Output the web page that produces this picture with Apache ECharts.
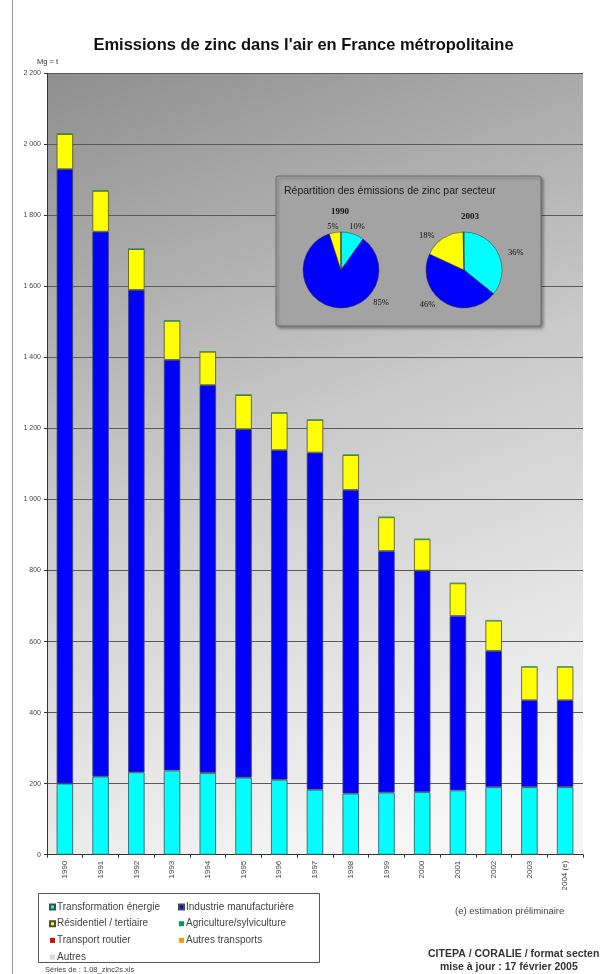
<!DOCTYPE html>
<html>
<head>
<meta charset="utf-8">
<script src="https://cdn.jsdelivr.net/npm/echarts@6/dist/echarts.min.js"></script>
<style>
  html, body { margin: 0; padding: 0; background: #ffffff; }
  #chart { width: 607px; height: 974px; }
</style>
</head>
<body>
<div id="chart"></div>
<script>
// Emissions de zinc dans l'air (Mg), par secteur, 1990-2004
const years = ['1990', '1991', '1992', '1993', '1994', '1995', '1996', '1997',
  '1998', '1999', '2000', '2001', '2002', '2003', '2004 (e)'];
const transformationEnergie = [200, 220, 232, 237, 230, 217, 211, 183, 172, 175, 176, 181, 190, 190, 190];
const industrieManufacturiere = [1730, 1534, 1358, 1156, 1092, 981, 928, 949, 855, 680, 624, 491, 384, 245, 245];
const residentielTertiaire = [99, 115, 115, 110, 94, 96, 105, 92, 98, 95, 88, 92, 85, 94, 94];
const agricultureSylviculture = [2, 2, 2, 2, 2, 2, 2, 2, 2, 2, 2, 2, 2, 2, 2];
const transportRoutier = [0, 0, 0, 0, 0, 0, 0, 0, 0, 0, 0, 0, 0, 0, 0];
const autresTransports = [0, 0, 0, 0, 0, 0, 0, 0, 0, 0, 0, 0, 0, 0, 0];
const autres = [0, 0, 0, 0, 0, 0, 0, 0, 0, 0, 0, 0, 0, 0, 0];
const yTicks = { min: 0, max: 2200, step: 200 };
const pieYears = ['1990', '2003'];

const sectors = [
  { name: 'Transformation énergie', data: transformationEnergie, color: '#00FFFF' },
  { name: 'Industrie manufacturière', data: industrieManufacturiere, color: '#0000FF' },
  { name: 'Résidentiel / tertiaire', data: residentielTertiaire, color: '#FFFF00' },
  { name: 'Agriculture/sylviculture', data: agricultureSylviculture, color: '#00A040' },
  { name: 'Transport routier', data: transportRoutier, color: '#E00000' },
  { name: 'Autres transports', data: autresTransports, color: '#FF9900' },
  { name: 'Autres', data: autres, color: '#D8D8D8' }
];

const chart = echarts.init(document.getElementById('chart'), null, { renderer: 'canvas' });

const sans = 'Liberation Sans, Arial, sans-serif';
const serif = 'Liberation Serif, Times New Roman, serif';

function thousands(v) {
  return String(v).replace(/\B(?=(\d{3})+(?!\d))/g, ' ');
}

const barSeries = sectors.map(s => ({
  name: s.name,
  type: 'bar',
  stack: 'total',
  barWidth: '46%',
  data: s.data,
  itemStyle: {
    color: s.color,
    borderColor: '#4a4a4a',
    borderWidth: s.data.some(v => v > 5) ? 0.8 : 0
  },
  emphasis: { disabled: true }
}));

function pieData(yearLabel) {
  const idx = years.indexOf(yearLabel);
  return sectors
    .filter(s => s.data[idx] > 0)
    .map(s => ({ name: s.name, value: s.data[idx], itemStyle: { color: s.color } }));
}

// label anchors inside the inset box (1990 pie only, the large slice label sits lower right)
const pieLabelSpots = [
  { 0: [357, 227], 1: [381, 303], 2: [333, 227] },
  {}
];

const pieCenters = [[341, 270], [464, 270]];
const pieSeries = pieYears.map((y, i) => ({
  type: 'pie',
  z: 10,
  radius: 38,
  center: pieCenters[i],
  startAngle: 90,
  clockwise: true,
  silent: true,
  data: pieData(y),
  itemStyle: { borderColor: '#333', borderWidth: 0.5 },
  label: {
    show: true,
    position: 'outside',
    fontFamily: serif,
    fontSize: 8.5,
    color: '#111',
    formatter: p => (p.percent >= 2 ? Math.round(p.percent) + '%' : '')
  },
  labelLine: { show: false, length: 3, length2: 2 },
  labelLayout: p => {
    const spot = pieLabelSpots[i][p.dataIndex];
    return spot ? { x: spot[0], y: spot[1], align: 'center', verticalAlign: 'middle' } : {};
  }
}));

const legendCommon = {
  orient: 'vertical',
  itemWidth: 5,
  itemHeight: 5,
  itemGap: 6.7,
  icon: 'rect',
  selectedMode: false,
  textStyle: { fontFamily: sans, fontSize: 10, color: '#444', padding: [0, 0, 0, -3] }
};

const option = {
  backgroundColor: '#ffffff',
  animation: false,
  title: {
    text: "Emissions de zinc dans l'air en France métropolitaine",
    left: 'center',
    top: 32,
    textStyle: { fontFamily: sans, fontSize: 16.5, fontWeight: 'bold', color: '#111' }
  },
  legend: [
    Object.assign({}, legendCommon, {
      left: 44, top: 897,
      data: ['Transformation énergie', 'Résidentiel / tertiaire', 'Transport routier', 'Autres']
    }),
    Object.assign({}, legendCommon, {
      left: 173, top: 897,
      data: ['Industrie manufacturière', 'Agriculture/sylviculture', 'Autres transports']
    })
  ],
  grid: {
    left: 47,
    right: 24,
    top: 73.3,
    bottom: 119.3,
    show: true,
    borderWidth: 0,
    backgroundColor: new echarts.graphic.LinearGradient(0, 0, 0.55, 1, [
      { offset: 0, color: '#8f8f8f' },
      { offset: 0.5, color: '#c9c9c9' },
      { offset: 1, color: '#f6f6f6' }
    ])
  },
  xAxis: {
    type: 'category',
    data: years,
    axisLine: { lineStyle: { color: '#333', width: 1 } },
    axisTick: { show: true, length: 3, lineStyle: { color: '#333' } },
    axisLabel: {
      rotate: 90,
      fontFamily: sans,
      fontSize: 8,
      color: '#444',
      margin: 6
    }
  },
  yAxis: {
    type: 'value',
    min: yTicks.min,
    max: yTicks.max,
    interval: yTicks.step,
    axisLine: { show: true, lineStyle: { color: '#333', width: 1 } },
    axisTick: { show: true, length: 3, lineStyle: { color: '#333' } },
    splitLine: { show: true, lineStyle: { color: '#5a5a5a', width: 1 } },
    axisLabel: {
      fontFamily: sans,
      fontSize: 7,
      color: '#444',
      margin: 6,
      formatter: v => thousands(v)
    }
  },
  graphic: [
    // chart frame edge
    { type: 'line', z: 1, shape: { x1: 12.5, y1: 0, x2: 12.5, y2: 974 }, style: { stroke: '#9a9a9a', lineWidth: 1 } },
    { type: 'text', left: 37, top: 58, style: { text: 'Mg = t', font: '7.5px ' + sans, fill: '#333' } },
    // inset box for the sector pies
    {
      type: 'rect', z: 5,
      shape: { x: 276, y: 176, width: 265, height: 150, r: 2 },
      style: {
        fill: '#a3a3a3', stroke: '#6e6e6e', lineWidth: 1,
        shadowBlur: 3, shadowOffsetX: 2, shadowOffsetY: 2, shadowColor: 'rgba(0,0,0,0.35)'
      }
    },
    {
      type: 'text', z: 11, left: 284, top: 186,
      style: { text: 'Répartition des émissions de zinc par secteur', font: '10.5px ' + sans, fill: '#1a1a1a' }
    },
    { type: 'text', z: 11, left: 331, top: 207, style: { text: pieYears[0], font: 'bold 9px ' + serif, fill: '#111' } },
    { type: 'text', z: 11, left: 461, top: 212, style: { text: pieYears[1], font: 'bold 9px ' + serif, fill: '#111' } },
    // legend frame
    { type: 'rect', z: 1, shape: { x: 38.5, y: 893.5, width: 281, height: 69 }, style: { fill: '#ffffff', stroke: '#555', lineWidth: 1 } },
    { type: 'text', left: 455, top: 906, style: { text: '(e) estimation préliminaire', font: '9.5px ' + sans, fill: '#444' } },
    { type: 'text', left: 428, top: 949, style: { text: 'CITEPA / CORALIE / format secten', font: 'bold 10.5px ' + sans, fill: '#333' } },
    { type: 'text', left: 440, top: 962, style: { text: 'mise à jour : 17 février 2005', font: 'bold 10.5px ' + sans, fill: '#333' } },
    { type: 'text', left: 45, top: 966, style: { text: 'Séries de : 1.08_zinc2s.xls', font: '7.5px ' + sans, fill: '#444' } }
  ],
  series: barSeries.concat(pieSeries)
};

chart.setOption(option);
</script>
</body>
</html>
